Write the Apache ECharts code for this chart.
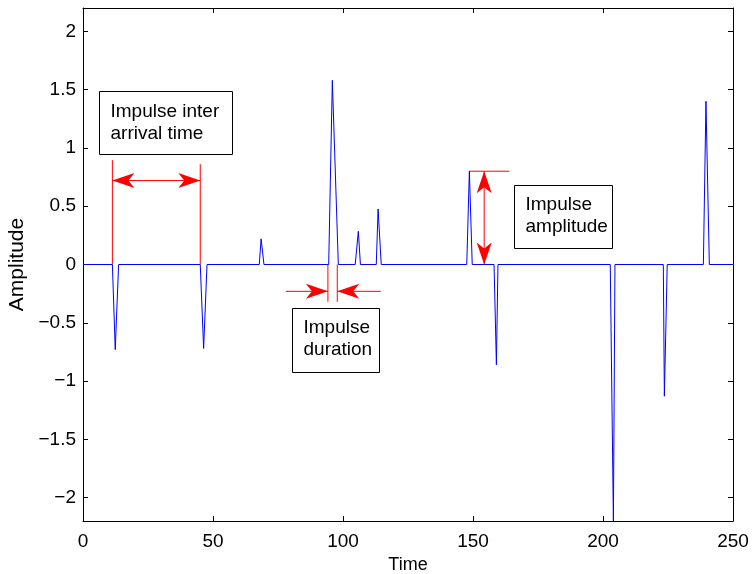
<!DOCTYPE html>
<html>
<head>
<meta charset="utf-8">
<script src="https://cdn.jsdelivr.net/npm/echarts@6/dist/echarts.min.js"></script>
<style>
html, body { margin: 0; padding: 0; background: #fff; }
#main { width: 754px; height: 574px; }
</style>
</head>
<body>
<div id="main"></div>
<script>
// signal samples (time, amplitude)
var times = [0, 11.3, 12.4, 13.7, 45.1, 46.4, 47.7, 67.8, 68.5, 69.6,
  94.5, 95.9, 98.2, 104.7, 105.9, 106.7, 112.8, 113.5, 114.7,
  147.6, 148.6, 149.7, 158.1, 159.0, 159.6, 202.8, 204.0, 204.6,
  223.2, 223.6, 224.7, 238.6, 239.6, 240.9, 250];
var amps = [0, 0, -0.73, 0, 0, -0.72, 0, 0, 0.22, 0,
  0, 1.58, 0, 0, 0.285, 0, 0, 0.476, 0,
  0, 0.80, 0, 0, -0.86, 0, 0, -2.2, 0,
  0, -1.13, 0, 0, 1.40, 0, 0];

// red annotation segments: x1, y1, x2, y2, arrow at start, arrow at end
var annoSegments = [
  [11.3, 0, 11.3, 0.895, 0, 0],
  [45.1, 0, 45.1, 0.86, 0, 0],
  [11.3, 0.72, 45.1, 0.72, 1, 1],
  [94.2, 0, 94.2, -0.32, 0, 0],
  [97.8, 0, 97.8, -0.32, 0, 0],
  [78, -0.23, 94.2, -0.23, 0, 1],
  [114.5, -0.23, 97.8, -0.23, 0, 1],
  [148.6, 0.80, 164, 0.80, 0, 0],
  [154.3, 0, 154.3, 0.80, 1, 1]
];

var seriesData = times.map(function (t, i) { return [t, amps[i]]; });

var font = 'Liberation Sans, Arial, Helvetica, sans-serif';
var axisLineStyle = { color: '#000', width: 1 };

// MATLAB-like arrowhead with its tip at p, pointing away from q
function arrowHead(p, q) {
  var dx = q[0] - p[0], dy = q[1] - p[1];
  var len = Math.sqrt(dx * dx + dy * dy) || 1;
  var ux = dx / len, uy = dy / len;
  var vx = -uy, vy = ux;
  var L = 22, W = 7.5, N = 16;
  return {
    type: 'polygon',
    shape: { points: [
      [p[0], p[1]],
      [p[0] + ux * L + vx * W, p[1] + uy * L + vy * W],
      [p[0] + ux * N, p[1] + uy * N],
      [p[0] + ux * L - vx * W, p[1] + uy * L - vy * W]
    ] },
    style: { fill: '#ff0000' }
  };
}

function renderAnno(params, api) {
  var a = api.coord([api.value(0), api.value(1)]);
  var b = api.coord([api.value(2), api.value(3)]);
  var children = [{
    type: 'line',
    shape: { x1: a[0], y1: a[1], x2: b[0], y2: b[1] },
    style: { stroke: '#ff0000', lineWidth: 1 }
  }];
  if (api.value(4)) children.push(arrowHead(a, b));
  if (api.value(5)) children.push(arrowHead(b, a));
  return { type: 'group', children: children };
}

function edgeAxis(pos, extra) {
  var ax = {
    type: 'value', position: pos,
    axisLine: { show: true, onZero: false, lineStyle: axisLineStyle },
    axisTick: { show: true, inside: true, length: 5, lineStyle: axisLineStyle },
    splitLine: { show: false }
  };
  for (var k in extra) ax[k] = extra[k];
  return ax;
}

var chart = echarts.init(document.getElementById('main'));
var option = {
  animation: false,
  backgroundColor: '#fff',
  textStyle: { fontFamily: font },
  grid: { left: 83, right: 21, top: 8, bottom: 53, containLabel: false, outerBoundsMode: 'none' },
  xAxis: [
    edgeAxis('bottom', {
      min: 0, max: 250, interval: 50,
      name: 'Time', nameLocation: 'middle', nameGap: 33,
      nameTextStyle: { color: '#000', fontSize: 18, fontFamily: font },
      axisLabel: { color: '#000', fontSize: 19, margin: 11, fontFamily: font }
    }),
    edgeAxis('top', { min: 0, max: 250, interval: 50, axisLabel: { show: false } })
  ],
  yAxis: [
    edgeAxis('left', {
      min: -2.2, max: 2.2, splitNumber: 8,
      name: 'Amplitude', nameLocation: 'middle', nameGap: 48,
      nameTextStyle: { color: '#000', fontSize: 21, fontFamily: font },
      axisLabel: {
        color: '#000', fontSize: 19, margin: 7, fontFamily: font,
        showMinLabel: false, showMaxLabel: false,
        formatter: function (v) { return String(v).replace('-', '\u2212'); }
      }
    }),
    edgeAxis('right', { min: -2.2, max: 2.2, splitNumber: 8, axisLabel: { show: false } })
  ],
  series: [
    {
      type: 'line',
      data: seriesData,
      showSymbol: false,
      symbol: 'none',
      clip: true,
      silent: true,
      lineStyle: { color: '#0000ff', width: 1 },
      itemStyle: { color: '#0000ff' }
    },
    {
      type: 'custom',
      data: annoSegments,
      renderItem: renderAnno,
      encode: { x: [0, 2], y: [1, 3] },
      clip: false,
      silent: true,
      z: 3
    }
  ],
  graphic: [
    {
      type: 'group', left: 99, top: 91, z: 10, children: [
        { type: 'rect', shape: { x: 0, y: 0, width: 133, height: 63 }, style: { fill: '#fff', stroke: '#000', lineWidth: 1 } },
        { type: 'text', x: 11, y: 9, style: { text: 'Impulse inter\narrival time', font: '19px ' + font, lineHeight: 22, fill: '#000' } }
      ]
    },
    {
      type: 'group', left: 292, top: 308, z: 10, children: [
        { type: 'rect', shape: { x: 0, y: 0, width: 87, height: 64 }, style: { fill: '#fff', stroke: '#000', lineWidth: 1 } },
        { type: 'text', x: 11, y: 8, style: { text: 'Impulse\nduration', font: '19px ' + font, lineHeight: 22, fill: '#000' } }
      ]
    },
    {
      type: 'group', left: 514, top: 185, z: 10, children: [
        { type: 'rect', shape: { x: 0, y: 0, width: 98, height: 63 }, style: { fill: '#fff', stroke: '#000', lineWidth: 1 } },
        { type: 'text', x: 11, y: 8, style: { text: 'Impulse\namplitude', font: '19px ' + font, lineHeight: 22, fill: '#000' } }
      ]
    }
  ]
};
chart.setOption(option);
</script>
</body>
</html>
